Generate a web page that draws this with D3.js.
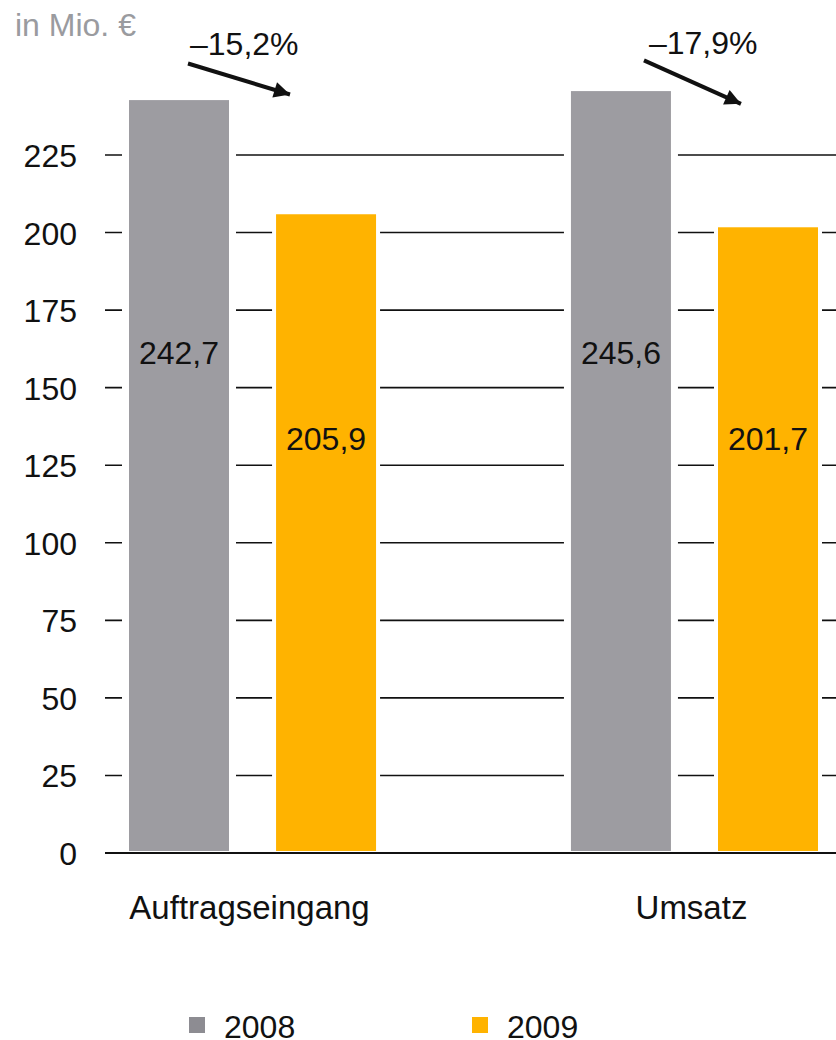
<!DOCTYPE html>
<html lang="de">
<head>
<meta charset="UTF-8">
<title>Auftragseingang und Umsatz</title>
<script src="https://cdnjs.cloudflare.com/ajax/libs/d3/7.8.5/d3.min.js"></script>
<style>
  body { margin: 0; background: #fff; }
  svg { display: block; font-family: "Liberation Sans", Arial, sans-serif; }
  .tick-label { font-size: 32px; fill: #111; }
</style>
</head>
<body>
<svg id="chart"></svg>
<script>
  // data
  const categories = ["Auftragseingang", "Umsatz"];
  const years = ["2008", "2009"];
  const values2008 = [242.7, 245.6];
  const values2009 = [205.9, 201.7];
  const valueLabels2008 = ["242,7", "245,6"];
  const valueLabels2009 = ["205,9", "201,7"];
  const changeLabels = ["–15,2%", "–17,9%"];
  const yTicks = [0, 25, 50, 75, 100, 125, 150, 175, 200, 225];

  const width = 836, height = 1040;
  const colors = { "2008": "#9d9ca1", "2009": "#ffb300" };
  const legendColors = { "2008": "#8d8c92", "2009": "#ffb300" };

  const svg = d3.select("#chart").attr("width", width).attr("height", height);

  const y = d3.scaleLinear().domain([0, 225]).range([853, 155]);
  const x0 = d3.scaleBand().domain(categories).range([129, 818]).paddingInner(0.441);
  const x1 = d3.scaleBand().domain(years).range([0, x0.bandwidth()]).paddingInner(0.32);

  const rows = categories.map((c, i) => ({
    cat: c,
    bars: [
      { year: "2008", value: values2008[i], label: valueLabels2008[i] },
      { year: "2009", value: values2009[i], label: valueLabels2009[i] }
    ]
  }));

  // unit
  svg.append("text")
    .attr("x", 15).attr("y", 36)
    .attr("font-size", 32).attr("fill", "#9a9b9f")
    .text("in Mio. €");

  // gridlines
  svg.append("g").selectAll("line")
    .data(yTicks.filter(d => d > 0))
    .join("line")
    .attr("x1", 105).attr("x2", width)
    .attr("y1", d => y(d)).attr("y2", d => y(d))
    .attr("stroke", "#111").attr("stroke-width", 1.6);

  // tick labels
  svg.append("g").selectAll("text")
    .data(yTicks)
    .join("text")
    .attr("class", "tick-label")
    .attr("x", 77).attr("y", d => y(d) + 12)
    .attr("text-anchor", "end")
    .text(d => d);

  const groups = svg.append("g").selectAll("g")
    .data(rows)
    .join("g")
    .attr("transform", d => `translate(${x0(d.cat)},0)`);

  // white gaps around the bars break the gridlines
  groups.selectAll("rect.gap")
    .data(d => d.bars)
    .join("rect")
    .attr("class", "gap")
    .attr("x", d => x1(d.year) - (d.year === "2008" ? 7 : 4))
    .attr("width", d => x1.bandwidth() + (d.year === "2008" ? 14 : 8))
    .attr("y", d => y(d.value))
    .attr("height", d => y(0) - y(d.value))
    .attr("fill", "#fff");

  groups.selectAll("rect.bar")
    .data(d => d.bars)
    .join("rect")
    .attr("class", "bar")
    .attr("x", d => x1(d.year))
    .attr("width", x1.bandwidth())
    .attr("y", d => y(d.value))
    .attr("height", d => y(0) - y(d.value) - 2)
    .attr("fill", d => colors[d.year]);

  // value labels sit at fixed heights per series
  const labelLevel = { "2008": 157.5, "2009": 130 };
  groups.selectAll("text.val")
    .data(d => d.bars)
    .join("text")
    .attr("class", "val")
    .attr("x", d => x1(d.year) + x1.bandwidth() / 2)
    .attr("y", d => y(labelLevel[d.year]))
    .attr("text-anchor", "middle")
    .attr("font-size", 32).attr("fill", "#111")
    .text(d => d.label);

  // baseline
  svg.append("line")
    .attr("x1", 105).attr("x2", width)
    .attr("y1", y(0)).attr("y2", y(0))
    .attr("stroke", "#111").attr("stroke-width", 2.2);

  // category labels
  groups.append("text")
    .attr("x", x0.bandwidth() / 2 - 3)
    .attr("y", 919)
    .attr("text-anchor", "middle")
    .attr("font-size", 33).attr("fill", "#111")
    .text(d => d.cat);

  // change arrows
  svg.append("defs").append("marker")
    .attr("id", "head")
    .attr("viewBox", "0 0 10 10")
    .attr("refX", 10).attr("refY", 5)
    .attr("markerWidth", 4.5).attr("markerHeight", 4)
    .attr("markerUnits", "strokeWidth")
    .attr("orient", "auto")
    .append("path").attr("d", "M0,0 L10,5 L0,10 Z").attr("fill", "#111");

  const arrowDx = [[59, 161], [73, 170]];
  const arrowLevel = [[254.5, 244.5], [255.5, 241.5]];
  changeLabels.forEach((t, i) => {
    const gx = x0(categories[i]);
    svg.append("line")
      .attr("x1", gx + arrowDx[i][0]).attr("y1", y(arrowLevel[i][0]))
      .attr("x2", gx + arrowDx[i][1]).attr("y2", y(arrowLevel[i][1]))
      .attr("stroke", "#111").attr("stroke-width", 4)
      .attr("marker-end", "url(#head)");
    svg.append("text")
      .attr("x", gx + arrowDx[i][0] + 2 + i * 3).attr("y", 55 - i)
      .attr("font-size", 32).attr("fill", "#111")
      .text(t);
  });

  // legend
  const legend = svg.append("g").selectAll("g")
    .data(years)
    .join("g")
    .attr("transform", (d, i) => `translate(${189 + i * 283},1017)`);
  legend.append("rect")
    .attr("width", 16).attr("height", 16)
    .attr("fill", d => legendColors[d]);
  legend.append("text")
    .attr("x", 35).attr("y", 21)
    .attr("font-size", 32).attr("fill", "#111")
    .text(d => d);
</script>
</body>
</html>
